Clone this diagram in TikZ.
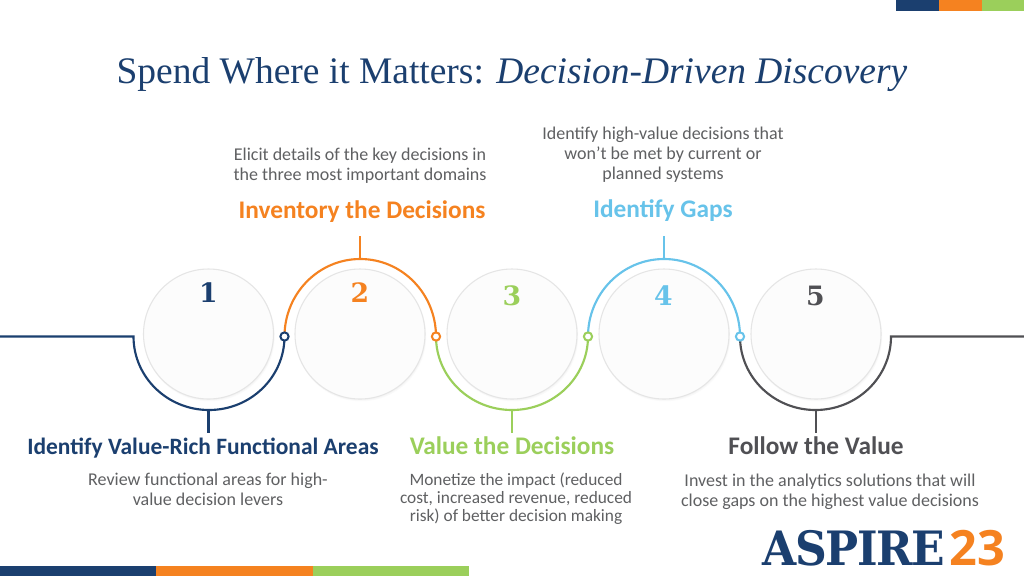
\documentclass[tikz,border=0pt]{standalone}
\usepackage{graphicx}
\usepackage{fontspec}
\setmainfont{Carlito}
\newfontfamily\titlefont{Liberation Serif}
\newfontfamily\numfont{DejaVu Serif}
\newfontfamily\logofont{DejaVu Serif}
\newfontfamily\logosans{Open Sans}
\definecolor{navy}{HTML}{1B3F6F}
\definecolor{orangec}{HTML}{F58220}
\definecolor{greenc}{HTML}{9BCF5B}
\definecolor{bluec}{HTML}{67C3EA}
\definecolor{darkc}{HTML}{505054}
\definecolor{bodyc}{HTML}{5F6062}
\tikzset{
 x=0.75pt,y=-0.75pt,
 disc/.style={circle,draw=black!10,line width=0.8pt,fill=white!99!black,minimum size=97.5pt,inner sep=0pt},
 discshade/.style={circle,fill=black!#1,minimum size=97.8pt,inner sep=0pt,draw=none},
 numlab/.style={font=\numfont\bfseries\fontsize{20}{22}\selectfont,anchor=center,inner sep=0pt},
 headlab/.style={font=\bfseries\fontsize{19}{20}\selectfont,anchor=center,inner sep=0pt},
 bodylab/.style={font=\fontsize{13.5}{15}\selectfont,text=bodyc,align=center,anchor=center,inner sep=0pt},
 trace/.style={line width=1.6pt},
 ring/.style={circle,fill=white,line width=1.5pt,minimum size=6.2pt,inner sep=0pt},
}
\begin{document}
\begin{tikzpicture}
\useasboundingbox (0,0) rectangle (1024,576);
\fill[white] (0,0) rectangle (1024,576);
% colour bars
\fill[navy] (896,0) rectangle (939,11);
\fill[orangec] (939,0) rectangle (982,11);
\fill[greenc] (982,0) rectangle (1024,11);
\fill[navy] (0,566) rectangle (156,576);
\fill[orangec] (156,566) rectangle (313,576);
\fill[greenc] (313,566) rectangle (469,576);
% title
\node[font=\titlefont\fontsize{28.1}{32}\selectfont,text=navy,inner sep=0pt] (title) at (512,75) {Spend Where it Matters: \textit{Decision-Driven Discovery}};
% discs
\foreach \n/\cx in {1/208.5,2/360,3/512,4/664,5/816}{
  \node[discshade=2] (sa\n) at (\cx+1,336) {};
  \node[discshade=4] (sb\n) at (\cx+0.5,335) {};
  \node[disc] (d\n) at (\cx,334) {};
}
% anchor coordinates
\coordinate (j0) at (133.5,336.5);
\coordinate (j1) at (284.5,336.5);
\coordinate (j2) at (436,336.5);
\coordinate (j3) at (588,336.5);
\coordinate (j4) at (740,336.5);
\coordinate (j5) at (891,336.5);
\coordinate (le) at (0,336.5);
\coordinate (re) at (1024,336.5);
% traces
\draw[trace,navy] (le) -- (j0) arc[start angle=180,end angle=360,x radius=75.5,y radius=-73.5];
\draw[trace,orangec] (j1) arc[start angle=180,end angle=0,x radius=75.75,y radius=-77.5];
\draw[trace,greenc] (j2) arc[start angle=180,end angle=360,x radius=76,y radius=-73.5];
\draw[trace,bluec] (j3) arc[start angle=180,end angle=0,x radius=76,y radius=-77.5];
\draw[trace,darkc] (j4) arc[start angle=180,end angle=360,x radius=75.5,y radius=-73.5] -- (re);
% stems
\coordinate (t1) at (208.5,410); \coordinate (e1) at (208.5,433);
\coordinate (t2) at (360,259);     \coordinate (e2) at (360,236);
\coordinate (t3) at (512,410);     \coordinate (e3) at (512,433);
\coordinate (t4) at (664,259);     \coordinate (e4) at (664,236);
\coordinate (t5) at (816,410);   \coordinate (e5) at (816,433);
\draw[trace,navy] (t1) -- (e1);
\draw[trace,orangec] (t2) -- (e2);
\draw[trace,greenc] (t3) -- (e3);
\draw[trace,bluec] (t4) -- (e4);
\draw[trace,darkc] (t5) -- (e5);
% rings
\node[ring,draw=navy] (r1) at (j1) {};
\node[ring,draw=orangec] (r2) at (j2) {};
\node[ring,draw=greenc] (r3) at (j3) {};
\node[ring,draw=bluec] (r4) at (j4) {};
% numbers
\node[numlab,text=navy] (n1) at (208.5,293) {1};
\node[numlab,text=orangec] (n2) at (360,293) {2};
\node[numlab,text=greenc] (n3) at (512,296) {3};
\node[numlab,text=bluec] (n4) at (663.5,296) {4};
\node[numlab,text=darkc] (n5) at (815.5,296) {5};
% headings
\node[headlab,font=\bfseries\fontsize{17.6}{20}\selectfont,text=navy] (h1) at (203,448) {Identify Value-Rich Functional Areas};
\node[headlab,text=orangec] (h2) at (362,212) {Inventory the Decisions};
\node[headlab,text=greenc] (h3) at (512,446) {Value the Decisions};
\node[headlab,text=bluec] (h4) at (663,211) {Identify Gaps};
\node[headlab,text=darkc] (h5) at (816,446) {Follow the Value};
% body
\node[bodylab] (b1) at (208,489) {Review functional areas for high-\\value decision levers};
\node[bodylab] (b2) at (360,165.5) {Elicit details of the key decisions in\\the three most important domains};
\node[bodylab,font=\fontsize{13}{13.4}\selectfont] (b3) at (516,499) {Monetize the impact (reduced\\cost, increased revenue, reduced\\risk) of better decision making};
\node[bodylab] (b4) at (663,155) {Identify high-value decisions that\\won’t be met by current or\\planned systems};
\node[bodylab] (b5) at (830,492) {Invest in the analytics solutions that will\\close gaps on the highest value decisions};
% logo
\node[inner sep=0pt,anchor=base west,text=navy,font=\logofont\bfseries\fontsize{35.5}{38}\selectfont] (logo) at (762,565) {\scalebox{0.93}[1]{\addfontfeature{LetterSpace=-3}ASPIRE}};
\node[inner sep=0pt,anchor=base west,text=orangec,font=\logosans\bfseries\fontsize{36.5}{38}\selectfont] (logo2) at (949,565) {23};
\end{tikzpicture}
\end{document}
